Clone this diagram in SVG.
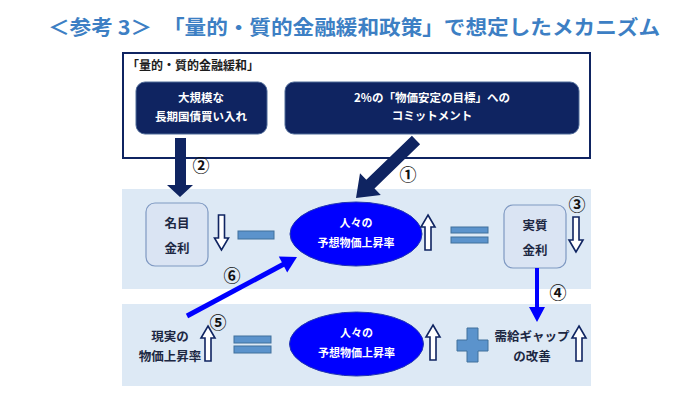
<svg xmlns="http://www.w3.org/2000/svg" xmlns:xlink="http://www.w3.org/1999/xlink" width="690" height="413" viewBox="0 0 690 413">
<defs>
<style>
text{font-family:"Noto Sans CJK JP","Noto Sans",sans-serif;font-weight:bold}
.title{font-size:20px;fill:#3d7fc4}
.wt{font-size:11.5px;fill:#ffffff;text-anchor:middle}
.et{font-size:11px;fill:#ffffff;text-anchor:middle}
.dk{font-size:12.5px;fill:#1c2742;text-anchor:middle}
.num{font-size:17px;fill:#111111;text-anchor:middle;font-weight:bold}
.band{fill:#dde9f5}
.navybox{fill:#0f2461;stroke:#4f6a98;stroke-width:1}
.node{fill:#dae4f3;stroke:#7f99c2;stroke-width:1.2}
.ell{fill:#0000ff;stroke:#2236b0;stroke-width:1}
.bar{fill:#5b93cc;stroke:#41719c;stroke-width:1}
.hollow{fill:#ffffff;stroke:#0f2461;stroke-width:1.6;stroke-linejoin:miter}
</style>
<path id="up" d="M0,0 L7,12 L3,12 L3,35 L-3,35 L-3,12 L-7,12 Z"/>
</defs>
<rect width="690" height="413" fill="#ffffff"/>
<text class="title" x="48" y="35" textLength="612" lengthAdjust="spacingAndGlyphs">＜参考 3＞　「量的・質的金融緩和政策」で想定したメカニズム</text>

<rect class="band" x="122" y="189" width="469" height="100"/>
<rect class="band" x="122" y="304" width="469" height="82"/>

<g id="qqe">
<rect x="123" y="53" width="467" height="105" fill="none" stroke="#0f2461" stroke-width="2"/>
<text x="127" y="70" style="font-size:12px;fill:#1c1c1c">「量的・質的金融緩和」</text>
</g>
<g id="box-jgb">
<rect class="navybox" x="136" y="82" width="131" height="52" rx="9"/>
<text class="wt" x="201" y="102">大規模な</text>
<text class="wt" x="201" y="121">長期国債買い入れ</text>
</g>
<g id="box-commit">
<rect class="navybox" x="285" y="82" width="294" height="52" rx="9"/>
<text class="wt" x="432" y="102">2%の「物価安定の目標」への</text>
<text class="wt" x="432" y="120">コミットメント</text>
</g>

<g id="nominal">
<rect class="node" x="146" y="203" width="62" height="63" rx="9"/>
<text class="dk" x="177" y="228">名目</text>
<text class="dk" x="177" y="253">金利</text>
<use href="#up" class="hollow" transform="translate(221.5,250) rotate(180)"/>
</g>
<g id="minus"><rect class="bar" x="238" y="231" width="36" height="8"/></g>
<g id="expect1">
<ellipse class="ell" cx="356" cy="234" rx="66" ry="32"/>
<text class="et" x="356" y="227">人々の</text>
<text class="et" x="356" y="247">予想物価上昇率</text>
<use href="#up" class="hollow" transform="translate(428,215)"/>
</g>
<g id="equals1">
<rect class="bar" x="451" y="227" width="37" height="6"/>
<rect class="bar" x="451" y="237" width="37" height="6"/>
</g>
<g id="real">
<rect class="node" x="504" y="205" width="62" height="63" rx="9"/>
<text class="dk" x="535" y="230">実質</text>
<text class="dk" x="535" y="255">金利</text>
<use href="#up" class="hollow" transform="translate(576,252) rotate(180)"/>
</g>

<g id="actual">
<text class="dk" x="170" y="341">現実の</text>
<text class="dk" x="170" y="361">物価上昇率</text>
<use href="#up" class="hollow" transform="translate(208,326)"/>
</g>
<g id="equals2">
<rect class="bar" x="234" y="336" width="37" height="7"/>
<rect class="bar" x="234" y="346" width="37" height="7"/>
</g>
<g id="expect2">
<ellipse class="ell" cx="356.5" cy="344" rx="67" ry="32"/>
<text class="et" x="356.5" y="337">人々の</text>
<text class="et" x="356.5" y="357">予想物価上昇率</text>
<use href="#up" class="hollow" transform="translate(433,325)"/>
</g>
<g id="plus">
<path class="bar" d="M467,328 H478 V340 H488 V351 H478 V362 H467 V351 H457 V340 H467 Z"/>
</g>
<g id="gap">
<text class="dk" x="532" y="341">需給ギャップ</text>
<text class="dk" x="532" y="361">の改善</text>
<use href="#up" class="hollow" transform="translate(579,326)"/>
</g>

<g id="connectors">
<path d="M175,138 H186 V185 H193 L180,197 L167,185 H175 Z" fill="#0f2461"/>
<polygon points="411.9,135.7 420.1,144.3 374.5,188.4 380.8,194.9 356,198 360,173.3 366.3,179.8" fill="#0f2461"/>
<path d="M535,268 H539 V307 H545 L537,322 L529,307 H535 Z" fill="#0000ff"/>
<line x1="187" y1="316" x2="284" y2="264" stroke="#0000ff" stroke-width="5"/>
<polygon points="297,257 287.2,272.4 278.8,256.6" fill="#0000ff"/>
</g>

<g id="labels">
<text class="num" x="201" y="172">②</text>
<text class="num" x="408" y="181">①</text>
<text class="num" x="577" y="211">③</text>
<text class="num" x="558" y="299">④</text>
<text class="num" x="218" y="329">⑤</text>
<text class="num" x="232" y="282">⑥</text>
</g>
</svg>
